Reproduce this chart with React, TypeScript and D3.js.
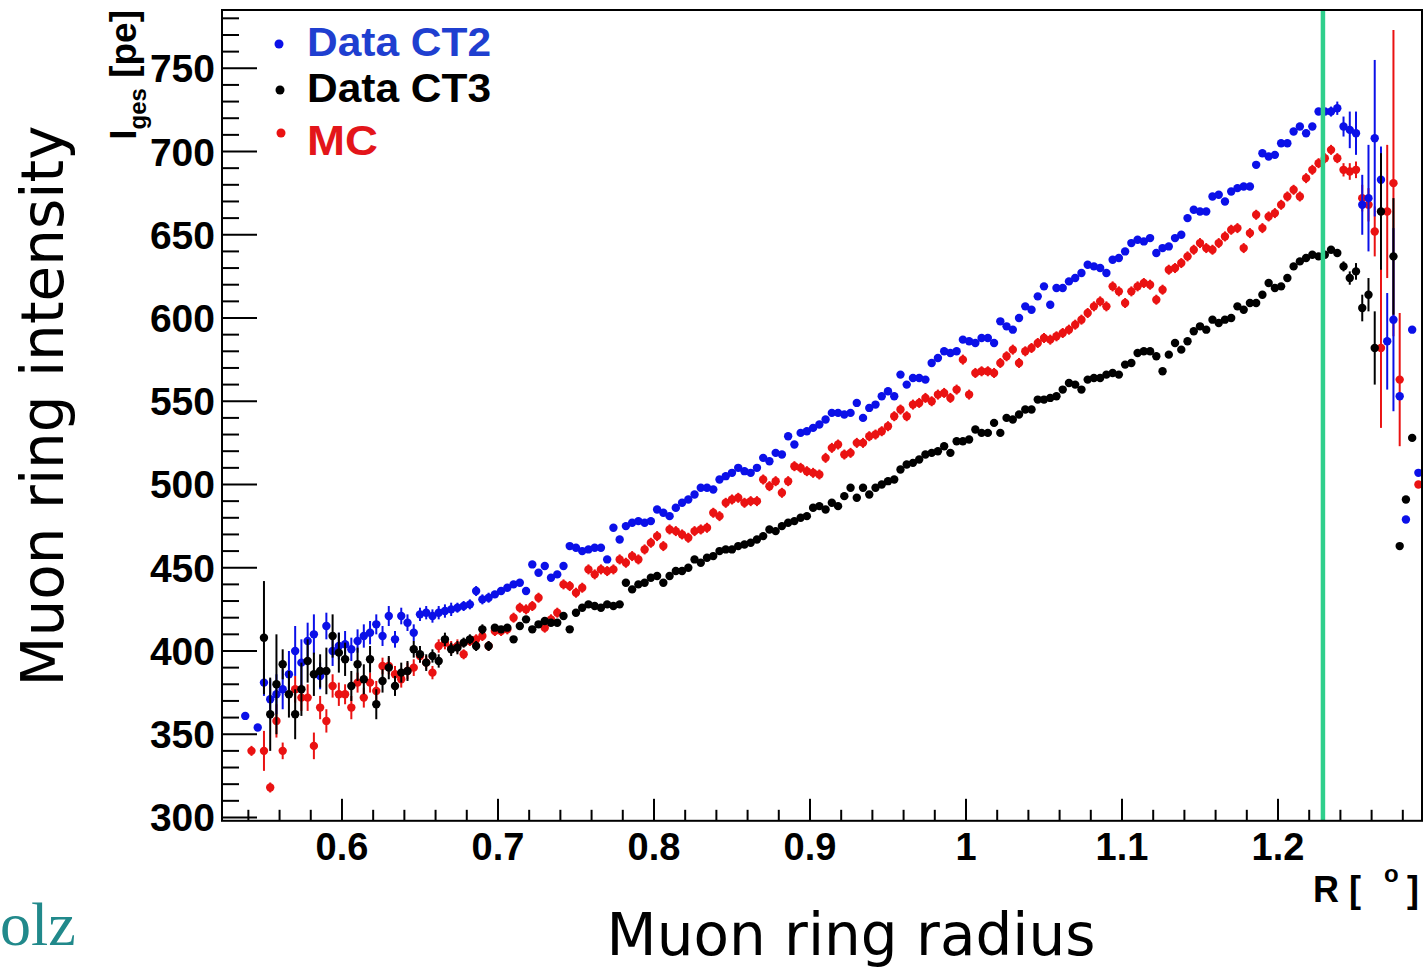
import React from 'react';
import * as d3 from 'd3';

// Bin centres of the ring radius R [deg]
const R_BINS = [
  0.538, 0.542, 0.546, 0.550, 0.554, 0.558, 0.562, 0.566, 0.570, 0.574,
  0.578, 0.582, 0.586, 0.590, 0.594, 0.598, 0.602, 0.606, 0.610, 0.614,
  0.618, 0.622, 0.626, 0.630, 0.634, 0.638, 0.642, 0.646, 0.650, 0.654,
  0.658, 0.662, 0.666, 0.670, 0.674, 0.678, 0.682, 0.686, 0.690, 0.694,
  0.698, 0.702, 0.706, 0.710, 0.714, 0.718, 0.722, 0.726, 0.730, 0.734,
  0.738, 0.742, 0.746, 0.750, 0.754, 0.758, 0.762, 0.766, 0.770, 0.774,
  0.778, 0.782, 0.786, 0.790, 0.794, 0.798, 0.802, 0.806, 0.810, 0.814,
  0.818, 0.822, 0.826, 0.830, 0.834, 0.838, 0.842, 0.846, 0.850, 0.854,
  0.858, 0.862, 0.866, 0.870, 0.874, 0.878, 0.882, 0.886, 0.890, 0.894,
  0.898, 0.902, 0.906, 0.910, 0.914, 0.918, 0.922, 0.926, 0.930, 0.934,
  0.938, 0.942, 0.946, 0.950, 0.954, 0.958, 0.962, 0.966, 0.970, 0.974,
  0.978, 0.982, 0.986, 0.990, 0.994, 0.998, 1.002, 1.006, 1.010, 1.014,
  1.018, 1.022, 1.026, 1.030, 1.034, 1.038, 1.042, 1.046, 1.050, 1.054,
  1.058, 1.062, 1.066, 1.070, 1.074, 1.078, 1.082, 1.086, 1.090, 1.094,
  1.098, 1.102, 1.106, 1.110, 1.114, 1.118, 1.122, 1.126, 1.130, 1.134,
  1.138, 1.142, 1.146, 1.150, 1.154, 1.158, 1.162, 1.166, 1.170, 1.174,
  1.178, 1.182, 1.186, 1.190, 1.194, 1.198, 1.202, 1.206, 1.210, 1.214,
  1.218, 1.222, 1.226, 1.230, 1.234, 1.238, 1.242, 1.246, 1.250, 1.254,
  1.258, 1.262, 1.266, 1.270, 1.274, 1.278, 1.282, 1.286, 1.290,
];

// Data CT2 (blue)
const CT2_VALUES: (number | null)[] = [
  361, null, 354, 381, 371, 374, 377, 386, 400, 393,
  406, 410, 385, 415, 400, 403, 404, 401, 406, 409,
  411, 416, 409, 421, 407, 421, 417, 411, 422, 423,
  421, 423, 424, 425, 426, 427, 428, 436, 431, 432,
  434, 436, 438, 440, 441, 436, 452, 447, 451, 444,
  446, 451, 463, 462, 460, 461, 462, 462, 455, 474,
  467, 475, 477, 478, 477, 478, 485, 483, 481, 486,
  489, 491, 494, 498, 498, 497, 503, 505, 507, 510,
  508, 507, 510, 516, 514, 519, 518, 529, 524, 531,
  532, 534, 536, 539, 543, 543, 542, 543, 549, 540,
  546, 548, 553, 556, 553, 566, 560, 564, 564, 563,
  573, 576, 580, 579, 580, 587, 586, 585, 588, 588,
  585, 598, 595, 593, 600, 607, 605, 613, 619, 608,
  618, 618, 622, 624, 627, 632, 631, 630, 627, 635,
  636, 640, 645, 647, 646, 648, 639, 642, 643, 648,
  650, 660, 665, 664, 664, 673, 674, 670, 676, 678,
  679, 679, 692, 699, 697, 698, 705, 705, 712, 715,
  711, 715, 724, 724, 724, 726, 715, 713, 711, 668,
  672, 708, 683, 586, 599, 553, 479, 593, 507,
];
const CT2_ERRORS = [
  0, 0, 0, 8, 12, 12, 12, 14, 15, 14,
  11, 12, 8, 8, 9, 8, 8, 7, 7, 7,
  7, 6, 6, 6, 5, 5, 5, 5, 4, 4,
  4, 4, 4, 4, 3, 3, 3, 3, 3, 3,
  2, 2, 2, 2, 2, 2, 2, 2, 2, 2,
  2, 2, 2, 2, 2, 2, 2, 2, 2, 2,
  2, 2, 2, 2, 2, 2, 2, 2, 2, 2,
  2, 2, 2, 2, 2, 2, 2, 2, 2, 2,
  2, 2, 2, 2, 2, 2, 2, 2, 2, 2,
  2, 2, 2, 2, 2, 2, 2, 2, 2, 2,
  2, 2, 2, 2, 2, 2, 2, 2, 2, 2,
  2, 2, 2, 2, 2, 2, 2, 2, 2, 2,
  2, 2, 2, 2, 2, 2, 2, 2, 2, 2,
  2, 2, 2, 2, 2, 2, 2, 2, 2, 2,
  2, 2, 2, 2, 2, 2, 2, 2, 2, 2,
  2, 2, 2, 2, 2, 2, 2, 2, 2, 2,
  2, 2, 2, 2, 2, 2, 2, 2, 2, 2,
  2, 2, 2, 2, 3, 4, 6, 11, 13, 18,
  32, 47, 20, 29, 55, 0, 0, 0, 0,
];

// Data CT3 (black)
const CT3_VALUES: (number | null)[] = [
  null, null, null, 408, 362, 380, 392, 374, 362, 377,
  394, 386, 388, 388, 409, 399, 395, 379, 392, 383,
  395, 368, 382, 390, 379, 387, 388, 401, 398, 393,
  397, 394, 407, 401, 402, 405, 407, 403, 413, 403,
  414, 413, 414, 407, 415, 419, 413, 416, 418, 417,
  417, 421, 413, 423, 426, 428, 427, 426, 428, 427,
  428, 441, 437, 440, 441, 444, 445, 441, 445, 448,
  448, 450, 455, 453, 456, 457, 460, 461, 461, 463,
  464, 465, 467, 469, 473, 472, 475, 477, 478, 480,
  481, 486, 487, 485, 489, 487, 493, 498, 492, 498,
  494, 498, 500, 502, 503, 509, 512, 513, 515, 518,
  519, 520, 523, 519, 526, 526, 527, 533, 531, 531,
  537, 531, 540, 539, 542, 545, 545, 551, 551, 552,
  553, 557, 561, 560, 557, 563, 564, 564, 566, 567,
  566, 572, 573, 579, 580, 580, 577, 568, 578, 585,
  581, 586, 592, 595, 593, 599, 597, 599, 600, 607,
  605, 609, 609, 614, 621, 618, 619, 624, 631, 634,
  636, 638, 637, 638, 641, 639, 631, 624, 628, 606,
  614, 582, 664, null, 637, 463, 491, 528, null,
];
const CT3_ERRORS = [
  0, 0, 0, 34, 22, 30, 9, 14, 15, 16,
  13, 13, 10, 14, 13, 12, 10, 9, 10, 9,
  8, 9, 7, 7, 6, 6, 6, 5, 5, 5,
  4, 4, 4, 4, 4, 3, 3, 3, 3, 3,
  2, 2, 2, 2, 2, 2, 2, 2, 2, 2,
  2, 2, 2, 2, 2, 2, 2, 2, 2, 2,
  2, 2, 2, 2, 2, 2, 2, 2, 2, 2,
  2, 2, 2, 2, 2, 2, 2, 2, 2, 2,
  2, 2, 2, 2, 2, 2, 2, 2, 2, 2,
  2, 2, 2, 2, 2, 2, 2, 2, 2, 2,
  2, 2, 2, 2, 2, 2, 2, 2, 2, 2,
  2, 2, 2, 2, 2, 2, 2, 2, 2, 2,
  2, 2, 2, 2, 2, 2, 2, 2, 2, 2,
  2, 2, 2, 2, 2, 2, 2, 2, 2, 2,
  2, 2, 2, 2, 2, 2, 2, 2, 2, 2,
  2, 2, 2, 2, 2, 2, 2, 2, 2, 2,
  2, 2, 2, 2, 2, 2, 2, 2, 2, 2,
  2, 2, 2, 2, 2, 2, 3, 4, 5, 8,
  10, 22, 35, 0, 35, 0, 0, 0, 0,
];

// MC (red)
const MC_VALUES: (number | null)[] = [
  null, 340, null, 340, 318, 358, 340, null, 377, 372,
  372, 343, 366, 358, 379, 374, 374, 366, 381, 372,
  381, 376, 391, 391, 386, 383, 388, 390, 397, 393,
  387, 403, 405, 402, 403, 398, 406, 407, 409, 403,
  412, 412, 413, 420, 426, 425, 427, 432, 414, 419,
  423, 440, 439, 435, 438, 449, 446, 449, 448, 449,
  455, 453, 457, 455, 461, 465, 469, 463, 473, 472,
  470, 468, 472, 473, 474, 483, 481, 489, 491, 492,
  489, 490, 490, 503, 499, 502, 495, 502, 511, 510,
  508, 507, 506, 516, 522, 524, 518, 519, 525, 525,
  529, 530, 532, 535, 541, 545, 541, 548, 549, 552,
  550, 554, 555, 552, 557, 575, 554, 567, 568, 568,
  567, 573, 577, 581, 573, 580, 582, 585, 588, 587,
  589, 591, 593, 596, 599, 603, 607, 610, 607, 619,
  616, 609, 616, 619, 621, 620, 611, 617, 629, 630,
  633, 637, 641, 645, 642, 641, 645, 649, 653, 654,
  642, 651, 662, 654, 661, 663, 668, 673, 677, 673,
  684, 689, 693, 696, 701, 696, 689, 688, 689, 672,
  668, 652, 582, 664, 681, 563, null, null, 500,
];
const MC_ERRORS = [
  0, 3, 0, 12, 3, 10, 5, 0, 8, 8,
  8, 8, 7, 7, 7, 7, 6, 7, 6, 6,
  6, 6, 5, 5, 5, 5, 5, 5, 4, 4,
  4, 4, 4, 4, 4, 3, 3, 3, 3, 3,
  3, 3, 3, 3, 3, 3, 3, 3, 3, 3,
  3, 3, 3, 3, 3, 3, 3, 3, 3, 3,
  3, 3, 3, 3, 3, 3, 3, 3, 3, 3,
  3, 3, 3, 3, 3, 3, 3, 3, 3, 3,
  3, 3, 3, 3, 3, 3, 3, 3, 3, 3,
  3, 3, 3, 3, 3, 3, 3, 3, 3, 3,
  3, 3, 3, 3, 3, 3, 3, 3, 3, 3,
  3, 3, 3, 3, 3, 3, 3, 3, 3, 3,
  3, 3, 3, 3, 3, 3, 3, 3, 3, 3,
  3, 3, 3, 3, 3, 3, 3, 3, 3, 3,
  3, 3, 3, 3, 3, 3, 3, 3, 3, 3,
  3, 3, 3, 3, 3, 3, 3, 3, 3, 3,
  3, 3, 3, 3, 3, 3, 3, 3, 3, 3,
  3, 3, 3, 3, 3, 3, 4, 5, 5, 8,
  10, 15, 48, 40, 92, 40, 0, 0, 0,
];

const X_TICKS = [0.6, 0.7, 0.8, 0.9, 1.0, 1.1, 1.2];
const X_TICK_LABELS = ['0.6', '0.7', '0.8', '0.9', '1', '1.1', '1.2'];
const Y_TICKS = [300, 350, 400, 450, 500, 550, 600, 650, 700, 750];
const CUT_RADIUS = 1.2288;

const LEGEND = ['Data CT2', 'Data CT3', 'MC'];

const BLUE = '#0b10e8';
const BLACK = '#000000';
const RED = '#ea1212';

const SERIES = [
  { key: 'mc', values: MC_VALUES, errors: MC_ERRORS, color: RED },
  { key: 'ct2', values: CT2_VALUES, errors: CT2_ERRORS, color: BLUE },
  { key: 'ct3', values: CT3_VALUES, errors: CT3_ERRORS, color: BLACK },
];

export default function App() {
  const W = 1424;
  const H = 968;
  const left = 222, right = 1422, top = 10, bottom = 820.8;
  const x = d3.scaleLinear().domain([0.5231, 1.2923]).range([left, right]);
  const y = d3.scaleLinear().domain([298, 785]).range([bottom, top]);

  const xMinor = d3.range(0.54, 1.2901, 0.02).filter(v => !X_TICKS.some(t => Math.abs(t - v) < 1e-6));
  const yMinor = d3.range(300, 785, 10).filter(v => v % 50 !== 0);

  const tickFont = '"Liberation Sans", Arial, Helvetica, sans-serif';
  const titleFont = '"DejaVu Sans", Verdana, sans-serif';

  return (
    <svg width={W} height={H} style={{ position: 'absolute', left: 0, top: 0, background: '#fff' }}>
      <rect x={0} y={0} width={W} height={H} fill="#ffffff" />

      {/* data */}
      {SERIES.map(s => (
        <g key={s.key}>
          {R_BINS.map((r, i) => {
            const v = s.values[i];
            if (v == null) return null;
            const e = s.errors[i];
            const cx = x(r);
            const cy = y(v);
            return (
              <g key={i}>
                {e > 0 && (
                  <line x1={cx} x2={cx} y1={y(Math.min(v + e, 785))} y2={y(v - e)} stroke={s.color} strokeWidth={2} />
                )}
                <circle cx={cx} cy={cy} r={4.2} fill={s.color} />
              </g>
            );
          })}
        </g>
      ))}

      {/* cut line */}
      <line x1={x(CUT_RADIUS)} x2={x(CUT_RADIUS)} y1={top} y2={bottom} stroke="#2fcf8c" strokeWidth={4.5} />

      {/* frame */}
      <rect x={left} y={top} width={right - left} height={bottom - top} fill="none" stroke="#000" strokeWidth={2} />

      {/* y ticks */}
      {Y_TICKS.map(t => (
        <g key={'y' + t}>
          <line x1={left} x2={left + 35} y1={y(t)} y2={y(t)} stroke="#000" strokeWidth={2} />
          <text x={215} y={y(t) + 14} textAnchor="end" fontFamily={tickFont} fontWeight="bold" fontSize={39} fill="#000">{t}</text>
        </g>
      ))}
      {yMinor.map(t => (
        <line key={'ym' + t} x1={left} x2={left + 17} y1={y(t)} y2={y(t)} stroke="#000" strokeWidth={2} />
      ))}

      {/* x ticks */}
      {X_TICKS.map((t, i) => (
        <g key={'x' + t}>
          <line x1={x(t)} x2={x(t)} y1={bottom} y2={bottom - 22} stroke="#000" strokeWidth={2} />
          <text x={x(t)} y={860} textAnchor="middle" fontFamily={tickFont} fontWeight="bold" fontSize={38} fill="#000">{X_TICK_LABELS[i]}</text>
        </g>
      ))}
      {xMinor.map(t => (
        <line key={'xm' + t.toFixed(2)} x1={x(t)} x2={x(t)} y1={bottom} y2={bottom - 11} stroke="#000" strokeWidth={2} />
      ))}

      {/* axis unit labels */}
      <text x={1313} y={902} fontFamily={tickFont} fontWeight="bold" fontSize={36} fill="#000">R [</text>
      <text x={1384} y={882} fontFamily={tickFont} fontWeight="bold" fontSize={24} fill="#000">o</text>
      <text x={1407} y={902} fontFamily={tickFont} fontWeight="bold" fontSize={36} fill="#000">]</text>

      <text transform="translate(136,10) rotate(-90)" textAnchor="end" fontFamily={tickFont} fontWeight="bold" fontSize={37} fill="#000">
        I<tspan fontSize={24} dy={10}>ges</tspan><tspan dy={-10} fontSize={37}> [pe]</tspan>
      </text>

      {/* titles */}
      <text transform="translate(63,406) rotate(-90)" textAnchor="middle" fontFamily={titleFont} fontSize={58} fill="#000">Muon ring intensity</text>
      <text x={851} y={955} textAnchor="middle" fontFamily={titleFont} fontSize={58} fill="#000">Muon ring radius</text>

      {/* legend */}
      <circle cx={279} cy={44} r={4.5} fill={BLUE} />
      <circle cx={280} cy={90} r={4.5} fill={BLACK} />
      <circle cx={281} cy={133} r={4.5} fill={RED} />
      <text x={307} y={56} fontFamily={tickFont} fontWeight="bold" fontSize={40} fill="#1f3fd0" textLength={184} lengthAdjust="spacingAndGlyphs">{LEGEND[0]}</text>
      <text x={307} y={102} fontFamily={tickFont} fontWeight="bold" fontSize={40} fill="#000" textLength={184} lengthAdjust="spacingAndGlyphs">{LEGEND[1]}</text>
      <text x={307} y={155} fontFamily={tickFont} fontWeight="bold" fontSize={43} fill="#e3151a" textLength={71} lengthAdjust="spacingAndGlyphs">{LEGEND[2]}</text>

      {/* slide fragment */}
      <text x={0} y={945} fontFamily='"Liberation Serif", "DejaVu Serif", serif' fontSize={62} fill="#21898b">olz</text>
    </svg>
  );
}
